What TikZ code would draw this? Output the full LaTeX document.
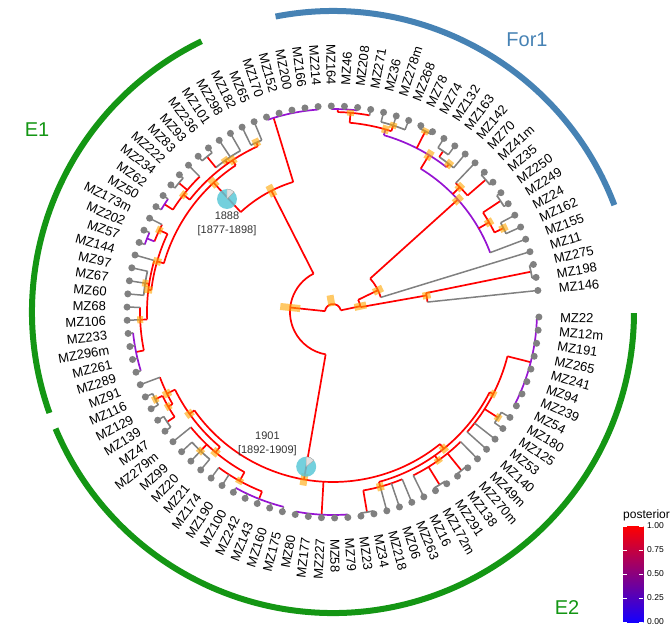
\documentclass[tikz,border=0pt]{standalone}
\usepackage{fontspec}
\setmainfont{Liberation Sans}
\usetikzlibrary{positioning}

\definecolor{postred}{RGB}{255,0,0}
\definecolor{postmid}{RGB}{190,0,150}
\definecolor{postblue}{RGB}{20,0,255}
\definecolor{postlow}{RGB}{150,20,210}
\definecolor{tipgray}{RGB}{128,128,128}
\definecolor{hpdorange}{RGB}{255,165,0}
\definecolor{cladegreen}{RGB}{20,150,20}
\definecolor{cladeblue}{RGB}{70,130,180}
\definecolor{piecyan}{RGB}{90,200,215}
\definecolor{pielight}{RGB}{225,225,225}

% angle of tip n (fractional n = internal node)
\newcommand{\tipang}[1]{6+(#1-1)*3.673}

% internal nodes: stem/arc from/arc to/parent radius/radius/stem colour/arc colour/bar
\newcommand{\treenodes}{%
  2.63/2.1/6.4/8/28/postred/postred/6, 2.1/1/2.5/28/95/postred/postred/4,
  2.5/2/3/95/202/postred/tipgray/0, 6.4/4/10.8/28/50/postred/postred/5,
  10.8/5/15.3/50/168/postred/postlow/5, 7.5/6.5/8.5/168/180/postred/postred/4,
  6.5/6/7/180/190/postred/tipgray/4, 8.5/8/9/180/201/postred/tipgray/0,
  11.5/10.5/12/168/178/postred/postred/4, 10.5/10/11/178/202/postred/tipgray/0,
  15.3/13.5/19.5/168/184/postred/postlow/5, 13.5/13/14.5/184/188/postred/tipgray/4,
  14.5/14/15/188/195/postred/tipgray/0, 16.5/16/17/184/203/postred/tipgray/3,
  19.5/19/22.5/184/190/postlow/postred/4, 19/18/20/190/196/postred/tipgray/3,
  22.5/21/23.5/190/200/postred/postred/3, 23.5/22/24/200/203/postred/postlow/0,
  46.74/31.2/70.2/8/43/postred/postred/10,
  31.2/28.5/35.5/43/136/postred/postred/6, 28.5/25/29/136/203/postred/postlow/0,
  35.5/33/44/136/176/postred/postred/5, 33/30.5/38/176/182/postred/postred/4,
  30.5/30/31/182/186/postred/tipgray/4, 33.5/32/34.5/182/186/postred/tipgray/3,
  34.5/34/35/186/200/postred/tipgray/0, 38/36/39.5/182/190/postred/postred/3,
  37.5/37/38/190/201/postred/tipgray/0, 39.5/39/40/190/200/postred/postlow/0,
  44/41.5/46.5/176/183/postred/postred/4, 41.5/41/42.5/183/192/postred/postred/3,
  42.5/42/43/192/200/postlow/postlow/0, 46.5/44/49/183/186/postred/postred/4,
  46/45/47/186/190/postred/tipgray/3, 49/48/51.5/186/193/postred/postred/3,
  51.5/50/53/193/201/postred/postlow/0,
  70.2/58/83.5/43/170/postred/postred/6, 58/55.5/62/170/176/postred/postred/4,
  55.5/54/56.5/176/185/postred/postred/4, 56.5/55.5/57.5/185/190/postred/postred/3,
  55.5/55/56/190/198/postred/tipgray/3, 57.5/57/58/190/199/postred/tipgray/0,
  62/59/65/176/183/postred/postred/4, 61/60/62/183/192/postred/tipgray/3,
  65/63/67/183/193/postred/postred/3, 67/65/69/193/201/postred/postlow/0,
  72/70/74/170/203/postred/postlow/0,
  83.5/77/90/170/176/postred/postred/4, 77/75.5/79/176/181/postred/postred/4,
  75.5/75/76/181/203/postred/tipgray/0, 82.5/80/85/176/182/postred/postred/3,
  81.5/81/82/182/203/postred/tipgray/0, 83.5/83/84/182/204/postred/tipgray/0,
  90/86/93.5/176/180/postred/postred/3, 88.5/88/89/180/196/postred/tipgray/3,
  93.5/90/97/180/204/postred/postlow/0}

% tips: index/parent radius/label
\newcommand{\treetips}{%
  1/95/MZ146, 2/202/MZ198, 3/202/MZ275, 4/50/MZ11, 5/168/MZ155, 6/190/MZ162,
  7/190/MZ24, 8/201/MZ249, 9/201/MZ250, 10/202/MZ35, 11/202/MZ41m, 12/178/MZ70,
  13/188/MZ142, 14/195/MZ163, 15/195/MZ132, 16/203/MZ74, 17/203/MZ78,
  18/196/MZ268, 19/196/MZ278m, 20/196/MZ36, 21/200/MZ271, 22/203/MZ208,
  23/203/MZ46, 24/203/MZ164, 25/203/MZ214, 26/203/MZ166, 27/203/MZ200,
  28/203/MZ152, 29/203/MZ170, 30/186/MZ65, 31/186/MZ182, 32/186/MZ298,
  33/186/MZ101, 34/200/MZ236, 35/200/MZ93, 36/190/MZ83, 37/201/MZ222,
  38/201/MZ234, 39/200/MZ62, 40/200/MZ50, 41/192/MZ173m, 42/200/MZ202,
  43/200/MZ57, 44/186/MZ144, 45/190/MZ97, 46/190/MZ67, 47/190/MZ60, 48/193/MZ68,
  49/193/MZ106, 50/201/MZ233, 51/201/MZ296m, 52/201/MZ261, 53/201/MZ289,
  54/185/MZ91, 55/198/MZ116, 56/198/MZ129, 57/199/MZ139, 58/199/MZ47,
  59/183/MZ279m, 60/192/MZ99, 61/192/MZ20, 62/192/MZ21, 63/193/MZ174,
  64/193/MZ190, 65/201/MZ100, 66/201/MZ242, 67/201/MZ143, 68/201/MZ160,
  69/201/MZ175, 70/203/MZ80, 71/203/MZ177, 72/203/MZ227, 73/203/MZ58,
  74/203/MZ79, 75/203/MZ23, 76/203/MZ34, 77/181/MZ218, 78/181/MZ06,
  79/181/MZ263, 80/182/MZ16, 81/203/MZ172m, 82/203/MZ291, 83/204/MZ138,
  84/204/MZ270m, 85/182/MZ49m, 86/180/MZ140, 87/180/MZ53, 88/196/MZ125,
  89/196/MZ180, 90/204/MZ54, 91/204/MZ239, 92/204/MZ94, 93/204/MZ241,
  94/204/MZ265, 95/204/MZ191, 96/204/MZ12m, 97/204/MZ22}

\begin{document}
\begin{tikzpicture}[x=1pt, y=1pt,
  branch/.style={line width=1.7pt},
  tipbranch/.style={line width=1.5pt, tipgray},
  tipdot/.style={circle, fill=tipgray, inner sep=0pt, minimum size=7pt},
  hpdbar/.style={line width=7pt, hpdorange, opacity=0.6},
  tiplabel/.style={inner sep=0pt, font=\fontsize{13}{13}\selectfont},
  cladearc/.style={line width=6pt},
  cladename/.style={font=\fontsize{20}{20}\selectfont},
  pie/.style={circle, fill=piecyan, fill opacity=0.85, inner sep=0pt, minimum size=20pt},
  datelabel/.style={align=center, inner sep=0pt, text=black!80, font=\fontsize{11}{14}\selectfont},
  legendtitle/.style={inner sep=0pt, font=\fontsize{12}{12}\selectfont},
  ticklabel/.style={inner sep=0pt, font=\fontsize{8.5}{8.5}\selectfont}
]
  \useasboundingbox (-333,-320) rectangle (339,312);

  % clade arcs
  \draw[cladearc, cladegreen] (115.9:301) arc[start angle=115.9, end angle=199.6, radius=301];
  \draw[cladearc, cladegreen] (202.8:301) arc[start angle=202.8, end angle=359.8, radius=301];
  \draw[cladearc, cladeblue] (20.8:301) arc[start angle=20.8, end angle=101, radius=301];
  \node[cladename, text=cladegreen] (nameE1) at (-296,182) {E1};
  \node[cladename, text=cladegreen] (nameE2) at (234,-296) {E2};
  \node[cladename, text=cladeblue] (nameFor1) at (194,272) {For1};

  % tree
  \draw[branch, postred] (12:8) arc[start angle=12, end angle=174, radius=8];
  \foreach \ns/\na/\nb/\nrp/\nr/\nsc/\nac/\nh in \treenodes {
    \pgfmathsetmacro\angS{\tipang{\ns}}
    \pgfmathsetmacro\angA{\tipang{\na}}
    \pgfmathsetmacro\angB{\tipang{\nb}}
    \draw[branch, draw=\nsc] (\angS:\nrp) -- (\angS:\nr);
    \draw[branch, draw=\nac] (\angA:\nr) arc[start angle=\angA, end angle=\angB, radius=\nr];
  }
  \foreach \ti/\trp/\tlab in \treetips {
    \pgfmathsetmacro\angT{\tipang{\ti}}
    \draw[tipbranch] (\angT:\trp) -- (\angT:206);
  }

  % HPD bars
  \draw[hpdbar] (100:6) -- (100:17);
  \foreach \ns/\na/\nb/\nrp/\nr/\nsc/\nac/\nh in \treenodes {
    \ifdim\nh pt>0pt
      \pgfmathsetmacro\angS{\tipang{\ns}}
      \draw[hpdbar] (\angS:{\nr-\nh}) -- (\angS:{\nr+\nh});
    \fi
  }

  % tips and labels
  \foreach \ti/\trp/\tlab in \treetips {
    \pgfmathsetmacro\angT{\tipang{\ti}}
    \pgfmathtruncatemacro\flip{and(\angT>90,\angT<270)}
    \node[tipdot] (tip\ti) at (\angT:206) {};
    \ifnum\flip=1
      \node[tiplabel, anchor=east, rotate=\angT-180] (lab\ti) at (\angT:227) {\tlab};
    \else
      \node[tiplabel, anchor=west, rotate=\angT] (lab\ti) at (\angT:227) {\tlab};
    \fi
  }

  % node ages
  \node[pie] (pie1888) at (-106,113) {};
  \fill[pielight, draw=gray!70, line width=0.4pt] (pie1888.center) -- ++(90:10) arc[start angle=90, end angle=45, radius=10] -- cycle;
  \node[datelabel, below=2pt of pie1888] (age1888) {1888\\{}[1877-1898]};
  \node[pie] (pie1901) at ({\tipang{70.2}}:157) {};
  \fill[pielight, draw=gray!70, line width=0.4pt] (pie1901.center) -- ++(90:10) arc[start angle=90, end angle=40, radius=10] -- cycle;
  \node[datelabel, above left=4pt and 2pt of pie1901.north west] (age1901) {1901\\{}[1892-1909]};

  % legend
  \node[minimum width=20pt, minimum height=96pt, inner sep=0pt, anchor=north west] (cbar) at (290,-214) {};
  \shade[bottom color=postblue, middle color=postmid, top color=postred] (cbar.south west) rectangle (cbar.north east);
  \foreach \v [count=\k] in {0.00,0.25,0.50,0.75,1.00} {
    \draw[white, line width=0.6pt] (290,{-310+96*\v}) -- ++(4,0);
    \draw[white, line width=0.6pt] (310,{-310+96*\v}) -- ++(-4,0);
    \node[ticklabel, anchor=west] (tick\k) at (314,{-310+96*\v}) {\v};
  }
  \node[legendtitle, above right=5pt and 0pt of cbar.north west] (legtitle) {posterior};
\end{tikzpicture}
\end{document}
